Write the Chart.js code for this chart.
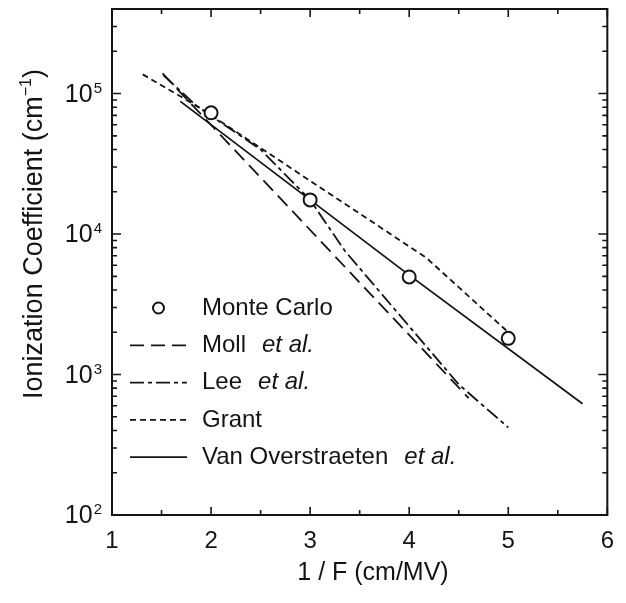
<!DOCTYPE html>
<html><head><meta charset="utf-8">
<script src="https://cdn.jsdelivr.net/npm/chart.js@4/dist/chart.umd.min.js"></script>
<style>html,body{margin:0;padding:0;background:#fff;overflow:hidden}#wrap{width:626px;height:603px}</style>
</head><body><div id="wrap"><canvas id="c" width="626" height="603"></canvas></div>
<script>
// ---- data ----
const xTickValues = [1, 2, 3, 4, 5, 6];
const yTickExponents = [2, 3, 4, 5];
const monteCarloX = [2, 3, 4, 5];
const monteCarloY = [7.3e4, 1.75e4, 4.95e3, 1.81e3];
const mollX = [1.51, 4.6];
const mollY = [1.39e5, 6.8e2];
const leeX = [1.52, 1.85, 2.5, 3.0, 3.35, 4.5, 5.0];
const leeY = [1.35e5, 8.2e4, 4.0e4, 1.75e4, 7.6e3, 8.5e2, 4.2e2];
const grantX = [1.31, 1.89, 4.17, 5.0];
const grantY = [1.37e5, 7.9e4, 6.8e3, 2.0e3];
const vanOX = [1.69, 4.0, 5.75];
const vanOY = [8.8e4, 5.1e3, 6.2e2];
const legendNames = ['Monte Carlo', 'Moll', 'Lee', 'Grant', 'Van Overstraeten'];
const legendSuffix = ['', 'et al.', 'et al.', '', 'et al.'];
const xTitle = '1 / F (cm/MV)';
const yTitleMain = 'Ionization Coefficient (cm';
const yTitleSup = '\u22121';

const INK = '#141414';
const FONT = '"Liberation Sans", Arial, Helvetica, sans-serif';
const pts = (xs, ys) => xs.map((x, i) => ({x, y: ys[i]}));

const datasets = [
  {label: legendNames[0], data: pts(monteCarloX, monteCarloY), showLine: false, pointRadius: 6.5,
   pointBorderWidth: 2, pointBorderColor: INK, pointBackgroundColor: '#fff', order: 0},
  {label: legendNames[1], data: pts(mollX, mollY), showLine: true, borderDash: [14, 7]},
  {label: legendNames[2], data: pts(leeX, leeY), showLine: true, borderDash: [14, 4, 4, 4]},
  {label: legendNames[3], data: pts(grantX, grantY), showLine: true, borderDash: [6, 4]},
  {label: legendNames[4], data: pts(vanOX, vanOY), showLine: true, borderDash: []}
];
datasets.forEach((d, i) => {
  if (i > 0) { d.borderColor = INK; d.borderWidth = 1.8; d.pointRadius = 0; d.fill = false; d.tension = 0; d.order = 1; }
});

const decor = {
  id: 'decor',
  afterDraw(chart) {
    const ctx = chart.ctx, a = chart.chartArea;
    const xs = chart.scales.x, ys = chart.scales.y;
    ctx.save();
    ctx.strokeStyle = INK; ctx.lineWidth = 2;
    ctx.strokeRect(a.left, a.top, a.right - a.left, a.bottom - a.top);
    ctx.lineWidth = 1.6;
    for (let v = xs.min; v <= xs.max + 1e-9; v += 0.5) {
      const px = xs.getPixelForValue(v);
      const major = Math.abs(v - Math.round(v)) < 1e-6;
      const len = major ? 8 : 5;
      ctx.beginPath();
      ctx.moveTo(px, a.bottom); ctx.lineTo(px, a.bottom - len);
      ctx.moveTo(px, a.top); ctx.lineTo(px, a.top + len);
      ctx.stroke();
    }
    for (let e = yTickExponents[0]; e <= yTickExponents[yTickExponents.length - 1] + 1; e++) {
      for (let m = 1; m <= 9; m++) {
        const v = m * Math.pow(10, e);
        if (v < ys.min || v > ys.max) continue;
        const py = ys.getPixelForValue(v);
        const len = m === 1 ? 9 : 5;
        ctx.beginPath();
        ctx.moveTo(a.left, py); ctx.lineTo(a.left + len, py);
        ctx.moveTo(a.right, py); ctx.lineTo(a.right - len, py);
        ctx.stroke();
      }
    }
    ctx.fillStyle = INK;
    ctx.textBaseline = 'alphabetic';
    yTickExponents.forEach(e => {
      const py = ys.getPixelForValue(Math.pow(10, e));
      ctx.font = '15px ' + FONT;
      const ew = ctx.measureText(String(e)).width;
      ctx.textAlign = 'right';
      ctx.fillText(String(e), 102, py - 1);
      ctx.font = '25px ' + FONT;
      ctx.fillText('10', 102 - ew - 1, py + 8);
    });
    ctx.font = '25px ' + FONT;
    ctx.textAlign = 'center';
    ctx.fillText(xTitle, 373, 580);
    // y title rotated
    ctx.save();
    ctx.translate(42, 234);
    ctx.rotate(-Math.PI / 2);
    ctx.font = '27px ' + FONT;
    const w1 = ctx.measureText(yTitleMain).width;
    ctx.font = '16px ' + FONT;
    const w2 = ctx.measureText(yTitleSup).width;
    ctx.font = '27px ' + FONT;
    const w3 = ctx.measureText(')').width;
    const tot = w1 + w2 + w3;
    const x0 = -tot / 2;
    ctx.textAlign = 'left';
    ctx.fillText(yTitleMain, x0, 0);
    ctx.font = '16px ' + FONT;
    ctx.fillText(yTitleSup, x0 + w1, -11);
    ctx.font = '27px ' + FONT;
    ctx.fillText(')', x0 + w1 + w2, 0);
    ctx.restore();
    // legend
    const ly0 = 308, ldy = 37.3, lx0 = 130, lx1 = 187, tx = 202;
    chart.data.datasets.forEach((d, i) => {
      const y = ly0 + i * ldy;
      ctx.strokeStyle = INK;
      if (i === 0) {
        ctx.lineWidth = 2; ctx.setLineDash([]);
        ctx.beginPath(); ctx.arc((lx0 + lx1) / 2, y, 5.5, 0, Math.PI * 2);
        ctx.fillStyle = '#fff'; ctx.fill(); ctx.stroke();
      } else {
        ctx.lineWidth = d.borderWidth; ctx.setLineDash(d.borderDash);
        ctx.beginPath(); ctx.moveTo(lx0, y); ctx.lineTo(lx1, y); ctx.stroke();
        ctx.setLineDash([]);
      }
      ctx.fillStyle = INK;
      ctx.textAlign = 'left'; ctx.textBaseline = 'middle';
      ctx.font = '24px ' + FONT;
      ctx.fillText(legendNames[i], tx, y);
      if (legendSuffix[i]) {
        const w = ctx.measureText(legendNames[i]).width;
        ctx.font = 'italic 24px ' + FONT;
        ctx.fillText(legendSuffix[i], tx + w + 16, y);
      }
    });
    ctx.restore();
  }
};

new Chart(document.getElementById('c'), {
  type: 'scatter',
  data: {datasets},
  options: {
    responsive: false, animation: false, devicePixelRatio: 1,
    layout: {padding: {left: 0, right: 14, top: 9, bottom: 0}},
    plugins: {legend: {display: false}, tooltip: {enabled: false}},
    scales: {
      x: {
        type: 'linear', min: 1, max: 6,
        afterBuildTicks: s => { s.ticks = xTickValues.map(v => ({value: v})); },
        grid: {display: false, drawTicks: false},
        border: {display: false},
        ticks: {color: INK, font: {family: FONT, size: 24}, padding: 12, maxRotation: 0,
                callback: v => String(v)},
        afterFit: s => { s.height = 88; }
      },
      y: {
        type: 'logarithmic', min: 100, max: 4e5,
        grid: {display: false, drawTicks: false},
        border: {display: false},
        ticks: {display: false},
        afterFit: s => { s.width = 112; }
      }
    }
  },
  plugins: [decor]
});
</script></body></html>
